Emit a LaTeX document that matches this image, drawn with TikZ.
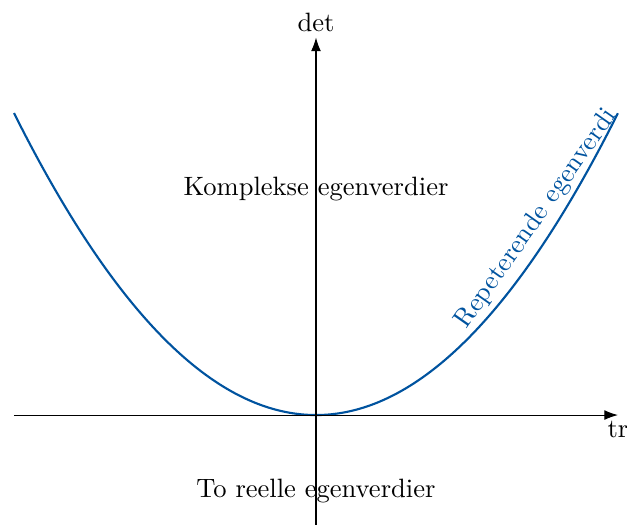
\documentclass[tikz,border=0pt]{standalone}
\usepackage{tikz}
\usetikzlibrary{arrows.meta,positioning}
\definecolor{CURVE}{HTML}{00539F}
\definecolor{INK}{HTML}{000000}

\begin{document}
\begin{tikzpicture}[
  axis/.style={draw=INK, line width=0.4pt, -{Latex[length=1.8mm, width=1.3mm]}},
  curve/.style={draw=CURVE, line width=0.8pt},
  lbl/.style={text=INK, inner sep=2pt},
  region/.style={text=INK},
]
\useasboundingbox (-4.185,-1.444) rectangle (4.119,5.497);

% ===== curve det = tr^2/4 =====
\draw[curve] plot[domain=-4:4, samples=120, smooth] (\x, {\x*\x/4});
\coordinate (rep) at (3.13, {3.13*3.13/4});
\node[text=CURVE, rotate=55, anchor=south, inner sep=2.5pt] (replbl) at (rep) {Repeterende egenverdi};

% ===== axes =====
\coordinate (xs) at (-4,0);
\coordinate (xe) at (4,0);
\coordinate (ys) at (0,-1.45);
\coordinate (ye) at (0,5);
\draw[axis] (xs) -- (xe);
\draw[axis] (ys) -- (ye);
\node[lbl, anchor=south] (det) at (ye) {det};
\node[lbl, anchor=north] (tr) at (xe) {tr};

% region labels
\node[region] (kompl) at (0, 3.0) {Komplekse egenverdier};
\node[region] (reelle) at (0, -1.0) {To reelle egenverdier};

\end{tikzpicture}
\end{document}
